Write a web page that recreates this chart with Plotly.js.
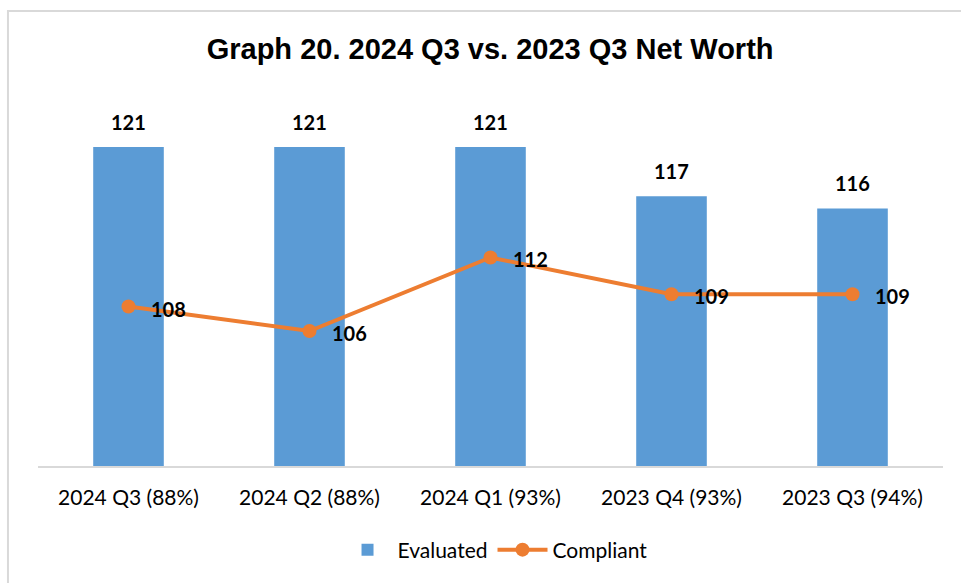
<!DOCTYPE html>
<html>
<head>
<meta charset="utf-8">
<script src="https://cdn.plot.ly/plotly-3.0.1.min.js"></script>
<style>html,body{margin:0;padding:0;background:#fff;} #chart{width:961px;height:583px;}</style>
</head>
<body>
<div id="chart"></div>
<script>
const categories = ["2024 Q3 (88%)", "2024 Q2 (88%)", "2024 Q1 (93%)", "2023 Q4 (93%)", "2023 Q3 (94%)"];
const evaluated = [121, 121, 121, 117, 116];
const compliant = [108, 106, 112, 109, 109];
const titleText = "Graph 20. 2024 Q3 vs. 2023 Q3 Net Worth";

const labelFont = {family: "Lato, 'Open Sans', sans-serif", size: 20, color: "#000"};

const traces = [
  {
    type: "bar", name: "Evaluated", x: categories, y: evaluated,
    marker: {color: "#5B9BD5"}, hoverinfo: "x+y"
  },
  {
    type: "scatter", mode: "lines+markers", name: "Compliant", x: categories, y: compliant,
    line: {color: "#ED7D31", width: 4}, marker: {color: "#ED7D31", size: 14}
  }
];

const annotations = [];
categories.forEach((c, i) => {
  annotations.push({x: c, y: evaluated[i], xref: "x", yref: "y", text: "<b>" + evaluated[i] + "</b>",
    showarrow: false, yanchor: "bottom", yshift: 11, font: labelFont});
  annotations.push({x: c, y: compliant[i], xref: "x", yref: "y", text: "<b>" + compliant[i] + "</b>",
    showarrow: false, xanchor: "left", xshift: 20, yshift: -2, font: labelFont});
});

const layout = {
  width: 961, height: 583,
  margin: {l: 38, r: 18, t: 98, b: 117},
  paper_bgcolor: "#fff", plot_bgcolor: "rgba(0,0,0,0)",
  title: {text: "<b>" + titleText + "</b>", font: {family: "'Liberation Sans', Arial, sans-serif", size: 29, color: "#000"},
    x: 0.51, xanchor: "center", y: 1 - 49/583, yanchor: "middle", yref: "container"},
  bargap: 0.61,
  xaxis: {showgrid: false, showline: true, linecolor: "#d9d9d9", linewidth: 1.5,
    ticks: "outside", ticklen: 12, tickcolor: "rgba(0,0,0,0)",
    tickfont: {family: "Lato, 'Open Sans', sans-serif", size: 21, color: "#000"}},
  yaxis: {range: [95, 125], visible: false, fixedrange: true},
  showlegend: true,
  legend: {orientation: "h", x: 0.505, xanchor: "center", y: 1 - 550/583, yref: "container", yanchor: "middle",
    itemwidth: 50, font: {family: "Lato, 'Open Sans', sans-serif", size: 21, color: "#000"}},
  annotations: annotations,
  shapes: [{type: "rect", xref: "paper", yref: "paper", x0: -0.0332, x1: 1.2, y0: -0.5, y1: (466-11)/368,
    line: {color: "#d9d9d9", width: 2}, fillcolor: "rgba(0,0,0,0)", layer: "below"}]
};

Plotly.newPlot("chart", traces, layout, {displayModeBar: false});
</script>
</body>
</html>
